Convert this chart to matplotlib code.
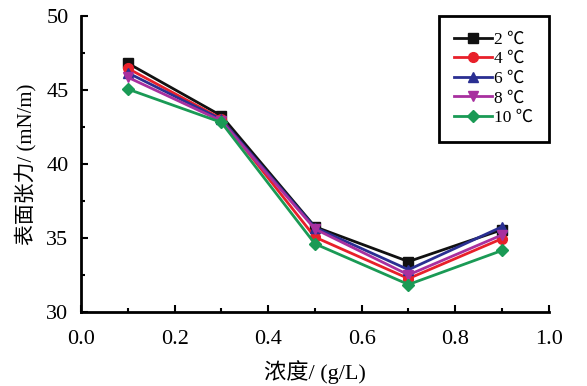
import matplotlib
matplotlib.use("Agg")
import matplotlib.pyplot as plt
from matplotlib.ticker import MultipleLocator

plt.rcParams['font.family'] = ['Liberation Serif', 'Noto Sans CJK SC', 'DejaVu Sans']
plt.rcParams['mathtext.fontset'] = 'stix'

# data
conc = [0.1, 0.3, 0.5, 0.7, 0.9]
t2 = [46.8, 43.25, 35.75, 33.4, 35.55]
t4 = [46.45, 43.05, 35.05, 32.25, 34.95]
t6 = [46.15, 43.0, 35.7, 32.85, 35.75]
t8 = [45.85, 42.9, 35.6, 32.5, 35.2]
t10 = [45.05, 42.8, 34.6, 31.85, 34.15]
labels = ["2 ℃", "4 ℃", "6 ℃", "8 ℃", "10 ℃"]

fig = plt.figure(figsize=(5.87, 3.86), dpi=100)
ax = fig.add_axes([0.138, 0.192, 0.797, 0.767])

styles = [("#111111", "s"), ("#e8202a", "o"), ("#2a2f92", "^"), ("#a8309f", "v"), ("#1a9a55", "D")]
for ys, lab, (c, m) in zip([t2, t4, t6, t8, t10], labels, styles):
    ax.plot(conc, ys, color=c, marker=m, markersize=7 if m != "D" else 6,
            linewidth=2, label=lab)

ax.set_xlim(0, 1.0)
ax.set_ylim(30, 50)
ax.xaxis.set_major_locator(MultipleLocator(0.2))
ax.xaxis.set_minor_locator(MultipleLocator(0.1))
ax.yaxis.set_major_locator(MultipleLocator(5))
ax.yaxis.set_minor_locator(MultipleLocator(2.5))
ax.tick_params(which="both", direction="in", width=1.5, labelsize=16)
ax.tick_params(axis="y", pad=9)
ax.tick_params(axis="x", pad=13)
ax.tick_params(which="major", length=5)
ax.tick_params(which="minor", length=3)
ax.xaxis.set_major_formatter(matplotlib.ticker.FormatStrFormatter("%.1f"))

for s in ["top", "right"]:
    ax.spines[s].set_visible(False)
for s in ["left", "bottom"]:
    ax.spines[s].set_linewidth(2)

ax.set_xlabel("浓度/ (g/L)", fontsize=16, labelpad=8)
ax.set_ylabel("表面张力/ (mN/m)", fontsize=15, labelpad=6)

leg = ax.legend(loc="upper right", fontsize=12.5, fancybox=False, framealpha=1,
                edgecolor="black", handlelength=2.2, handletextpad=0.1,
                labelspacing=0.2, borderpad=0.9, borderaxespad=0.0)
leg.get_frame().set_linewidth(2)

fig.savefig("out.png", dpi=100)
